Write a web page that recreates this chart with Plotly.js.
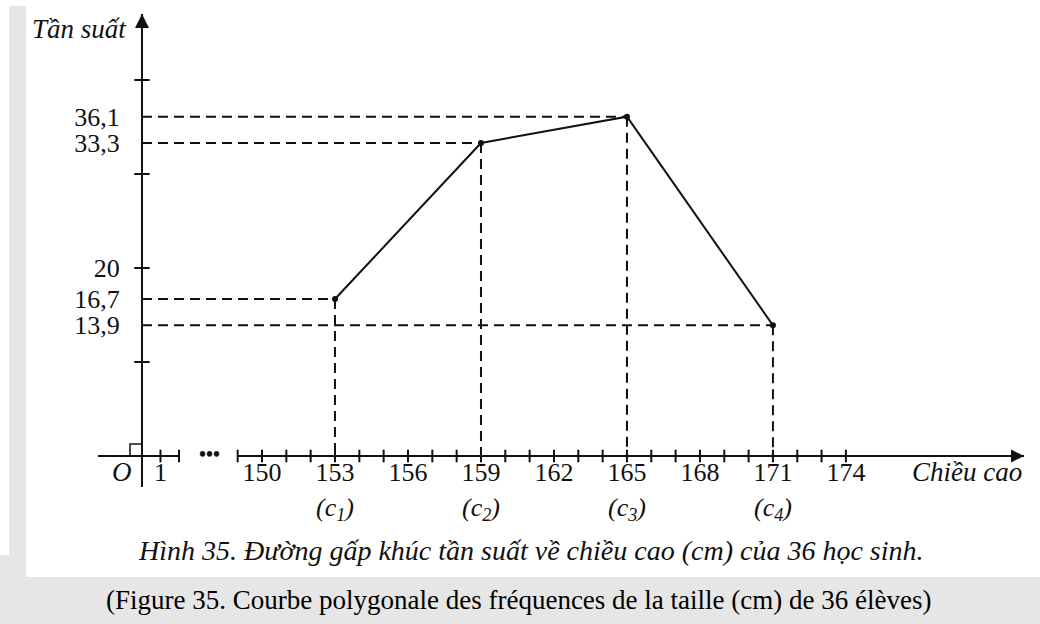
<!DOCTYPE html>
<html>
<head>
<meta charset="utf-8">
<script src="https://cdn.plot.ly/plotly-3.0.1.min.js"></script>
<style>html,body{margin:0;padding:0;background:#e6e6e6;}#chart{width:1040px;height:624px;}</style>
</head>
<body>
<div id="chart"></div>
<script>
// ---- data ----
const heights = [153, 159, 165, 171];           // class centres c1..c4 (cm)
const freqs = [16.7, 33.3, 36.1, 13.9];         // relative frequency (%)
const centreNames = ['c<sub>1</sub>', 'c<sub>2</sub>', 'c<sub>3</sub>', 'c<sub>4</sub>'];
const xTickVals = [150, 153, 156, 159, 162, 165, 168, 171, 174];
const xTickText = ['150', '153', '156', '159', '162', '165', '168', '171', '174'];
const xMinorTicks = [149, 150, 151, 152, 153, 154, 155, 156, 157, 158, 159, 160, 161, 162, 163, 164, 165, 166, 167, 168, 169, 170, 171, 172, 173, 174];
const yTickVals = [13.9, 16.7, 20, 33.3, 36.1];
const yTickText = ['13,9', '16,7', '20', '33,3', '36,1'];
const yMarkTicks = [10, 20, 30, 40];
const stubTicks = [1, 2];
const stubLabels = ['1'];

// ---- layout geometry (pixels) ----
const W = 1040, H = 624;
const px = v => v / W, py = v => (H - v) / H;
const originX = 142, originY = 456;
const yPxPerUnit = 9.4, xPxPerUnit = 24.33;
const yBottomPx = 487, yTopPx = 14;
const yRange = [(originY - yBottomPx) / yPxPerUnit, (originY - yTopPx) / yPxPerUnit];
// left stub of horizontal axis
const stubPx = [98, 179], stubUnit = 18.5;
const stubRange = [(stubPx[0] - originX) / stubUnit, (stubPx[1] - originX) / stubUnit];
// broken right part of horizontal axis: 153 sits at 335 px
const refVal = 153, refPx = 335, axisEndPx = 1024;
const x2Start = xMinorTicks[0];
const x2StartPx = refPx - (refVal - x2Start) * xPxPerUnit;
const x2Range = [x2Start, refVal + (axisEndPx - refPx) / xPxPerUnit];
// hidden continuous axis from the vertical axis to the arrow (for guides and polyline)
const x3Range = [refVal - (refPx - originX) / xPxPerUnit, refVal + (axisEndPx - refPx) / xPxPerUnit];

const ink = '#111111';
const serif = 'Liberation Serif, Times New Roman, serif';

// dashed guide lines
const gx = [], gy = [];
heights.forEach((h, i) => {
  gx.push(x3Range[0], h, null, h, h, null);
  gy.push(freqs[i], freqs[i], null, freqs[i], 0, null);
});

const traces = [
  {x: gx, y: gy, xaxis: 'x3', yaxis: 'y', mode: 'lines', hoverinfo: 'skip',
   line: {color: ink, width: 2, dash: '10px,6px'}, showlegend: false},
  {x: heights, y: freqs, xaxis: 'x3', yaxis: 'y', mode: 'lines+markers',
   line: {color: ink, width: 2}, marker: {color: ink, size: 6}, showlegend: false},
  {x: xMinorTicks, y: xMinorTicks.map(() => 0), xaxis: 'x2', yaxis: 'y', mode: 'markers', hoverinfo: 'skip',
   marker: {symbol: 'line-ns', size: 9, line: {width: 2, color: ink}}, showlegend: false, cliponaxis: false},
  {x: stubTicks, y: stubTicks.map(() => 0), xaxis: 'x', yaxis: 'y', mode: 'markers', hoverinfo: 'skip',
   marker: {symbol: 'line-ns', size: 9, line: {width: 2, color: ink}}, showlegend: false, cliponaxis: false},
  {x: yMarkTicks.map(() => 0), y: yMarkTicks, xaxis: 'x', yaxis: 'y', mode: 'markers', hoverinfo: 'skip',
   marker: {symbol: 'line-ew', size: 11, line: {width: 2, color: ink}}, showlegend: false, cliponaxis: false},
  // arrow heads at the ends of the two axes
  {x: [0], y: [yRange[1]], xaxis: 'x', yaxis: 'y', mode: 'markers', hoverinfo: 'skip', cliponaxis: false,
   marker: {symbol: 'arrow-up', size: 14, color: ink, line: {width: 0}}, showlegend: false},
  {x: [x3Range[1]], y: [0], xaxis: 'x3', yaxis: 'y', mode: 'markers', hoverinfo: 'skip', cliponaxis: false,
   marker: {symbol: 'arrow-right', size: 13, color: ink, line: {width: 0}}, showlegend: false}
];

const annotations = [
  {xref: 'paper', yref: 'paper', x: px(129), y: py(29), xanchor: 'right', yanchor: 'middle', showarrow: false,
   text: '<i>Tần suất</i>', font: {family: serif, size: 27, color: ink}},
  {xref: 'paper', yref: 'paper', x: px(1024), y: py(472), xanchor: 'right', yanchor: 'middle', showarrow: false,
   text: '<i>Chiều cao</i>', font: {family: serif, size: 27, color: ink}},
  {xref: 'paper', yref: 'paper', x: px(134), y: py(472), xanchor: 'right', yanchor: 'middle', showarrow: false,
   text: '<i>O</i>', font: {family: serif, size: 27, color: ink}},
  {xref: 'paper', yref: 'paper', x: px(209), y: py(454), xanchor: 'center', yanchor: 'middle', showarrow: false,
   text: '<b>•••</b>', font: {family: serif, size: 20, color: ink}},
  {xref: 'paper', yref: 'paper', x: px(531), y: py(550), xanchor: 'center', yanchor: 'middle', showarrow: false,
   text: '<i>Hình 35. Đường gấp khúc tần suất về chiều cao (cm) của 36 học sinh.</i>',
   font: {family: serif, size: 28, color: ink}},
  {xref: 'paper', yref: 'paper', x: px(518), y: py(600), xanchor: 'center', yanchor: 'middle', showarrow: false,
   text: '(Figure 35. Courbe polygonale des fréquences de la taille (cm) de 36 élèves)',
   font: {family: serif, size: 27, color: '#000'}}
];
heights.forEach((h, i) => {
  annotations.push({xref: 'x3', yref: 'paper', x: h, y: py(509), xanchor: 'center', yanchor: 'middle', showarrow: false,
    text: '<i>(' + centreNames[i] + ')</i>', font: {family: serif, size: 26, color: ink}});
});

const layout = {
  width: W, height: H,
  margin: {l: 0, r: 0, t: 0, b: 0, pad: 0},
  paper_bgcolor: '#e6e6e6', plot_bgcolor: 'rgba(0,0,0,0)',
  showlegend: false,
  font: {family: serif, color: ink},
  xaxis: {domain: [px(stubPx[0]), px(stubPx[1])], range: stubRange, anchor: 'free', position: py(originY),
    showline: true, linecolor: ink, linewidth: 2, showgrid: false, zeroline: false, ticks: '',
    ticklabelstandoff: -7,
    tickmode: 'array', tickvals: stubTicks.slice(0, 1), ticktext: stubLabels,
    tickfont: {family: serif, size: 26, color: ink}, fixedrange: true},
  xaxis2: {domain: [px(x2StartPx), px(axisEndPx)], range: x2Range, anchor: 'free', position: py(originY),
    showline: true, linecolor: ink, linewidth: 2, showgrid: false, zeroline: false, ticks: '',
    ticklabelstandoff: -7,
    tickmode: 'array', tickvals: xTickVals, ticktext: xTickText,
    tickfont: {family: serif, size: 26, color: ink}, fixedrange: true},
  xaxis3: {domain: [px(originX), px(axisEndPx)], range: x3Range, anchor: 'free', position: py(originY),
    visible: false, fixedrange: true},
  yaxis: {domain: [py(yBottomPx), py(yTopPx)], range: yRange, anchor: 'free', position: px(originX),
    showline: true, linecolor: ink, linewidth: 2, showgrid: false, zeroline: false, ticks: '',
    ticklabelstandoff: 16,
    tickmode: 'array', tickvals: yTickVals, ticktext: yTickText,
    tickfont: {family: serif, size: 26, color: ink}, fixedrange: true},
  shapes: [
    {type: 'rect', xref: 'paper', yref: 'paper', x0: px(26), x1: 1, y0: py(577), y1: 1, layer: 'below',
     fillcolor: '#ffffff', line: {width: 0}},
    {type: 'rect', xref: 'paper', yref: 'paper', x0: 0, x1: px(9), y0: py(555), y1: 1, layer: 'below',
     fillcolor: '#ffffff', line: {width: 0}},
    {type: 'rect', xref: 'paper', yref: 'paper', x0: 0, x1: px(26), y0: py(6), y1: 1, layer: 'below',
     fillcolor: '#ffffff', line: {width: 0}},
    // right-angle mark at the origin
    {type: 'rect', xref: 'x', yref: 'y', xsizemode: 'pixel', ysizemode: 'pixel', xanchor: 0, yanchor: 0,
     x0: -12, x1: 0, y0: 0, y1: 12, line: {color: ink, width: 1.5}, fillcolor: 'rgba(0,0,0,0)'}
  ],
  annotations: annotations
};

Plotly.newPlot('chart', traces, layout, {displayModeBar: false, staticPlot: true});
</script>
</body>
</html>
